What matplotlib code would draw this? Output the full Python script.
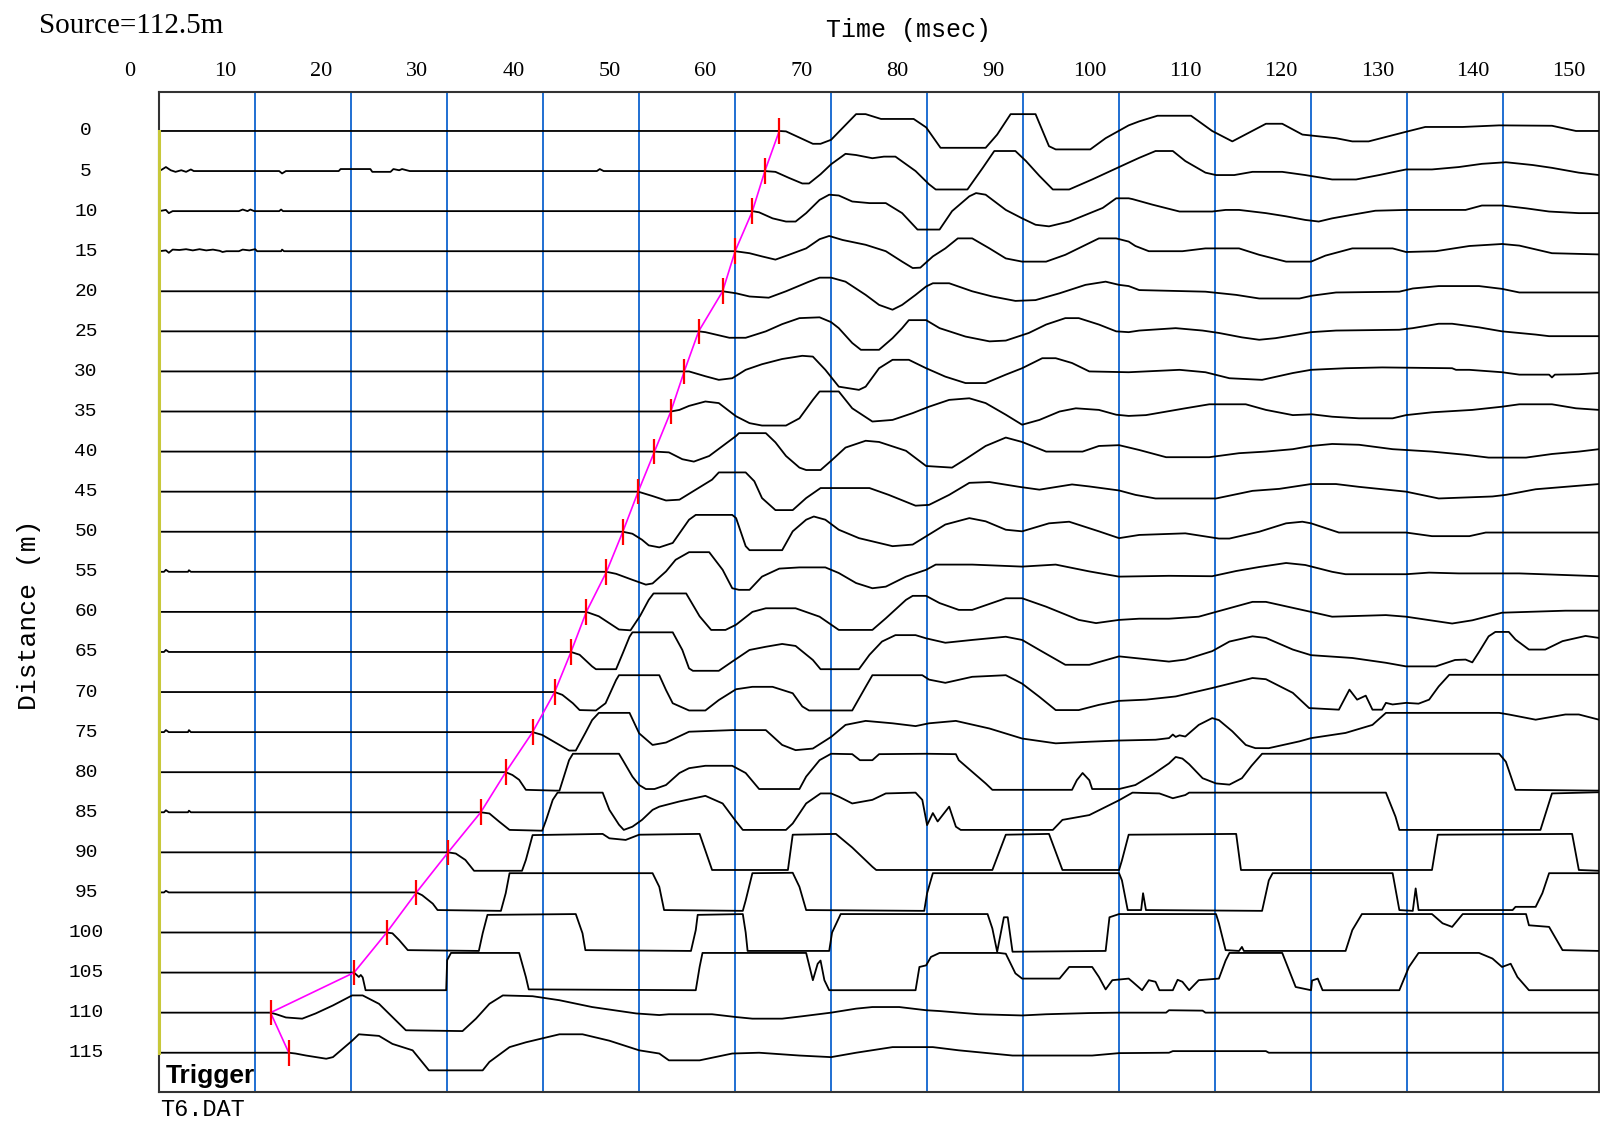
import matplotlib
matplotlib.use('Agg')
import matplotlib.pyplot as plt

# geophone offsets (m) and first-break picks (ms)
distances = [0, 5, 10, 15, 20, 25, 30, 35, 40, 45, 50, 55,
             60, 65, 70, 75, 80, 85, 90, 95, 100, 105, 110, 115]
picks = [64.6, 63.1, 61.8, 60.0, 58.7, 56.2, 54.7, 53.3, 51.6, 49.9, 48.3, 46.6,
         44.5, 42.9, 41.2, 38.9, 36.1, 33.5, 30.1, 26.8, 23.7, 20.3, 11.6, 13.5]
time_ticks = [0, 10, 20, 30, 40, 50, 60, 70, 80, 90, 100, 110, 120, 130, 140, 150]
grid_times = [10, 20, 30, 40, 50, 60, 70, 80, 90, 100, 110, 120, 130, 140]

# traces: (time ms, amplitude in m, up = positive)
trace_000 = [(64.6, 0), (65.3, -0.05), (68.1, -1.6), (68.9, -1.6), (70.0, -1.1), (72.6, 2.1), (73.6, 2.1),
             (75.2, 1.5), (78.6, 1.5), (79.9, 0.45), (81.4, -2.1), (86.1, -2.1), (87.3, -0.45), (88.7, 2.1),
             (91.3, 2.1), (92.7, -1.9), (93.4, -2.3), (97.0, -2.3), (98.6, -0.9), (101.0, 0.7), (102.1, 1.2),
             (104.0, 1.9), (107.5, 1.9), (109.7, 0), (111.8, -1.3), (115.3, 0.9), (117.0, 0.9), (119.1, -0.45),
             (122.6, -0.9), (124.3, -1.3), (126.0, -1.3), (129.9, -0.1), (131.9, 0.5), (135.8, 0.5),
             (139.6, 0.7), (145.1, 0.65), (147.6, 0), (150, 0)]
trace_005 = [(0.3, 0.2), (0.7, 0.5), (1.2, 0.1), (1.7, -0.1), (2.3, 0.1), (2.8, -0.1), (3.3, 0.2), (3.6, 0),
             (12.5, 0), (12.8, -0.3), (13.2, 0), (18.7, 0), (18.9, 0.25), (22.0, 0.25), (22.2, -0.1),
             (24.1, -0.1), (24.4, 0.25), (25.0, 0.1), (25.3, 0.25), (26.1, 0), (45.6, 0), (45.9, 0.25),
             (46.3, 0),
             (63.1, 0), (64.2, -0.1), (65.6, -0.85), (67.0, -1.55), (67.7, -1.55), (68.9, -0.4), (70.0, 0.85),
             (71.5, 2.15), (72.6, 2.0), (74.3, 1.6), (75.5, 1.8), (76.7, 1.8), (78.8, 0), (80.2, -1.65),
             (80.9, -2.3), (84.2, -2.3), (85.8, 0.4), (87.0, 2.5), (89.2, 2.5), (90.3, 1.25), (91.7, -0.6),
             (93.1, -2.3), (94.8, -2.3), (97.2, -1.05), (101.0, 1.05), (102.1, 1.65), (103.8, 2.5),
             (105.6, 2.5), (106.9, 1.25), (109.0, -0.2), (110.1, -0.5), (112.0, -0.5), (113.9, -0.1),
             (117.0, -0.1), (119.4, -0.5), (122.2, -1.05), (124.7, -1.05), (127.1, -0.5), (129.9, 0.2),
             (132.6, 0.2), (135.4, 0.5), (137.8, 0.9), (140.3, 1.1), (143.1, 0.75), (145.1, 0.4),
             (147.9, -0.2), (150, -0.5)]
trace_010 = [(0.7, 0.15), (1.0, -0.25), (1.4, 0), (8.3, 0), (8.7, 0.2), (9.2, 0), (9.5, 0.2), (9.9, 0),
             (12.5, 0), (12.7, 0.2), (12.9, 0),
             (61.8, 0), (62.5, -0.15), (63.9, -0.9), (65.3, -1.3), (66.3, -1.3), (67.4, -0.25), (68.8, 1.4),
             (69.8, 2.05), (70.8, 1.95), (72.2, 1.2), (74.0, 1.0), (75.7, 1.0), (77.4, -0.25), (79.0, -2.3),
             (81.3, -2.3), (82.6, 0), (84.4, 1.85), (85.1, 2.25), (86.1, 2.05), (88.2, 0.15), (89.9, -0.9),
             (91.3, -1.7), (92.7, -1.9), (94.8, -1.3), (98.3, 0.4), (99.7, 1.6), (101.0, 1.6), (101.4, 1.5),
             (103.5, 0.8), (106.3, -0.05), (109.7, -0.05), (111.1, 0.15), (112.5, 0.15), (115.3, -0.25),
             (117.4, -0.65), (119.4, -1.1), (120.8, -1.3), (122.2, -0.9), (124.3, -0.45), (126.7, 0.05),
             (129.9, 0.15), (136.1, 0.15), (137.8, 0.7), (139.9, 0.7), (142.4, 0.35), (144.8, -0.05),
             (147.9, -0.25), (150, -0.25)]
trace_015 = [(0.7, 0.1), (1.0, -0.2), (1.4, 0.2), (2.1, 0.15), (2.8, 0.25), (3.5, 0.1), (4.2, 0.25),
             (4.9, 0.1), (5.6, 0.2), (6.3, 0.05), (6.6, -0.1), (7.0, 0), (8.3, 0), (8.7, 0.2), (9.4, 0.1),
             (10.0, 0.25), (10.2, 0), (12.7, 0), (12.8, 0.2), (13.0, 0),
             (60.0, 0), (61.5, -0.25), (62.8, -0.65), (64.2, -1.05), (65.6, -0.45), (67.4, 0.35), (68.8, 1.5),
             (69.8, 1.9), (71.2, 1.4), (73.6, 0.8), (75.7, 0), (77.4, -1.3), (78.5, -2.1), (79.3, -2.05),
             (80.6, -0.65), (81.9, 0.35), (83.2, 1.6), (84.7, 1.6), (86.5, 0.35), (88.2, -0.9), (89.9, -1.3),
             (92.4, -1.3), (94.4, -0.45), (97.9, 1.6), (99.7, 1.6), (101.0, 1.2), (101.7, 0.65), (103.1, 0),
             (106.6, 0), (109.0, 0.35), (112.5, 0.35), (114.6, -0.45), (117.4, -1.3), (120.0, -1.3),
             (121.5, -0.55), (124.3, 0.35), (128.5, 0.35), (129.9, -0.1), (133.0, 0), (136.5, 0.65),
             (139.9, 0.9), (141.7, 0.7), (145.1, -0.25), (150, -0.4)]
trace_020 = [(58.7, 0), (60.1, -0.25), (61.5, -0.65), (63.5, -0.8), (65.3, 0), (67.7, 1.2), (68.8, 1.7),
             (70.0, 1.7), (71.5, 1.2), (73.6, -0.45), (75.0, -1.7), (76.4, -2.3), (77.4, -1.7), (78.8, -0.45),
             (79.9, 0.6), (80.6, 1.0), (82.3, 1.0), (84.7, 0), (86.8, -0.65), (89.2, -1.2), (91.3, -1.1),
             (93.8, -0.25), (96.5, 0.8), (98.6, 1.2), (100.0, 0.8), (101.0, 0.65), (102.1, 0.15),
             (109.0, -0.05), (112.2, -0.45), (114.6, -0.9), (118.8, -0.9), (120.1, -0.55), (122.6, -0.15),
             (129.2, -0.05), (130.6, 0.35), (133.3, 0.65), (137.5, 0.65), (139.9, 0.3), (141.7, -0.15),
             (150, -0.15)]
trace_025 = [(56.2, 0), (56.9, -0.1), (59.4, -0.8), (61.1, -0.8), (63.2, 0), (64.9, 0.9), (66.7, 1.65),
             (68.8, 1.75), (70.0, 1.15), (70.8, 0.4), (72.2, -1.45), (73.1, -2.3), (75.0, -2.3), (76.4, -0.85),
             (77.4, 0.4), (78.1, 1.4), (79.9, 1.4), (81.3, 0.4), (84.0, -0.65), (86.5, -1.25), (88.2, -1.15),
             (90.6, -0.2), (92.4, 0.85), (94.4, 1.65), (95.8, 1.65), (97.9, 0.85), (99.7, 0), (101.0, -0.1),
             (102.1, 0.1), (105.9, 0.4), (108.7, 0.1), (110.4, -0.2), (112.8, -0.75), (114.6, -1.05),
             (116.3, -0.85), (118.8, -0.35), (120.0, -0.1), (122.6, 0.1), (129.2, 0.2), (130.6, 0.4),
             (133.3, 0.95), (134.7, 0.95), (137.5, 0.5), (139.9, 0), (143.4, -0.4), (144.8, -0.6), (150, -0.6)]
trace_030 = [(54.7, 0), (55.2, 0), (56.9, -0.6), (58.3, -1.05), (59.7, -0.85), (61.1, 0.2), (62.8, 0.9),
             (64.9, 1.55), (67.0, 1.95), (68.1, 1.85), (69.4, 0.2), (70.8, -1.9), (72.9, -2.3), (73.6, -1.9),
             (75.0, 0.4), (76.4, 1.45), (78.1, 1.45), (79.9, 0.4), (81.9, -0.65), (84.0, -1.45), (86.1, -1.45),
             (88.2, -0.4), (89.9, 0.4), (92.0, 1.65), (93.4, 1.65), (95.1, 1.05), (96.9, 0), (101.0, -0.1),
             (106.3, 0.2), (109.0, -0.1), (111.5, -0.85), (114.9, -1.05), (118.1, -0.2), (120.0, 0.2),
             (123.6, 0.4), (127.4, 0.5), (134.7, 0.4), (135.1, 0.2), (136.5, 0.2), (139.9, -0.1),
             (141.7, -0.4), (144.8, -0.4), (145.1, -0.75), (145.4, -0.4), (147.9, -0.35), (150, -0.2)]
trace_035 = [(53.3, 0), (54.2, 0.2), (55.2, 0.7), (56.9, 1.25), (58.3, 1.05), (60.1, -0.6), (61.5, -1.45),
             (62.8, -1.75), (65.3, -1.75), (66.7, -0.85), (68.1, 1.45), (68.8, 2.5), (70.8, 2.5), (72.2, 0.4),
             (74.3, -1.25), (76.4, -1.05), (78.5, -0.2), (80.2, 0.6), (82.3, 1.45), (84.4, 1.65), (86.1, 1.05),
             (88.2, -0.4), (89.9, -1.65), (91.7, -1.05), (93.8, 0), (95.5, 0.4), (97.9, 0.2), (99.7, -0.4),
             (101.0, -0.55), (102.8, -0.45), (106.9, 0.4), (109.4, 0.9), (113.2, 0.9), (115.3, 0.2),
             (118.1, -0.45), (120.1, -0.35), (122.2, -0.65), (125.0, -0.85), (128.5, -0.85), (129.9, -0.45),
             (132.6, -0.1), (136.8, 0.2), (139.9, 0.6), (141.7, 0.9), (145.1, 0.9), (147.6, 0.4), (150, 0.2)]
trace_040 = [(51.6, 0), (53.1, -0.1), (54.5, -0.95), (55.7, -1.25), (57.3, -0.55), (58.7, 0.7), (60.1, 1.95),
             (60.4, 2.3), (63.2, 2.3), (64.2, 1.15), (65.3, -0.55), (66.7, -2.0), (67.4, -2.3), (68.9, -2.3),
             (70.0, -1.15), (71.5, 0.5), (73.6, 1.35), (75.0, 1.2), (77.8, 0.1), (79.9, -1.8), (82.6, -2.0),
             (84.0, -0.95), (86.1, 0.7), (88.2, 1.75), (89.9, 1.2), (92.4, 0), (96.2, 0), (97.9, 0.7),
             (100.0, 0.8), (102.1, 0.2), (104.9, -0.7), (109.4, -0.7), (112.5, -0.2), (115.3, 0),
             (118.1, 0.3), (120.0, 0.7), (122.2, 0.95), (125.0, 0.85), (128.5, 0.3), (132.6, 0),
             (136.1, -0.4), (138.5, -0.75), (142.4, -0.75), (145.1, -0.3), (147.9, 0), (150, 0.3)]
trace_045 = [(49.9, 0), (51.4, -0.55), (52.8, -1.1), (54.2, -1.0), (55.9, 0.25), (57.6, 1.5), (58.3, 2.4),
             (61.1, 2.4), (62.0, 1.3), (62.8, -0.8), (64.2, -2.3), (66.0, -2.3), (67.4, -0.8), (68.9, 0.45),
             (74.0, 0.45), (76.0, -0.4), (78.8, -1.75), (80.2, -1.65), (82.3, -0.4), (84.4, 1.1), (86.5, 1.2),
             (89.6, 0.6), (91.7, 0.25), (95.1, 0.9), (96.9, 0.65), (100.0, 0.15), (101.7, -0.4),
             (103.8, -0.85), (110.1, -0.85), (113.9, 0.1), (116.7, 0.35), (120.0, 0.95), (122.6, 0.95),
             (125.0, 0.6), (129.9, 0), (133.3, -0.85), (138.9, -0.6), (140.3, -0.4), (143.4, 0.3),
             (150, 0.95)]
trace_050 = [(48.3, 0), (49.3, -0.25), (50.3, -1.0), (51.0, -1.7), (52.1, -1.95), (53.5, -1.4), (55.2, 1.5),
             (55.9, 2.1), (59.7, 2.1), (60.1, 1.7), (61.1, -1.8), (61.5, -2.3), (64.9, -2.3), (66.0, 0.05),
             (67.4, 1.5), (68.2, 1.9), (69.4, 1.5), (70.8, 0.25), (72.9, -0.8), (76.4, -1.8), (78.5, -1.6),
             (80.2, -0.35), (81.9, 0.9), (84.4, 1.7), (86.1, 1.3), (88.2, 0.25), (89.9, 0.05), (92.7, 1.05),
             (94.8, 1.25), (97.9, 0.05), (100.0, -0.8), (102.1, -0.4), (106.9, -0.2), (110.4, -0.85),
             (111.5, -0.85), (114.6, 0), (117.4, 1.05), (119.1, 1.25), (120.0, 1.05), (122.9, -0.1),
             (129.9, -0.1), (132.6, -0.55), (136.5, -0.55), (138.2, -0.1), (150, -0.1)]
trace_055 = [(0.5, 0), (0.7, 0.25), (1.0, 0), (3.0, 0), (3.1, 0.2), (3.3, 0),
             (46.6, 0), (47.6, -0.25), (49.3, -1.0), (50.7, -1.6), (51.4, -1.45), (52.8, 0.05), (53.8, 1.5),
             (55.2, 2.45), (57.3, 2.45), (58.7, 0.25), (59.7, -2.05), (60.4, -2.25), (61.5, -2.25),
             (62.8, -0.6), (64.6, 0.4), (66.7, 0.55), (69.4, 0.55), (70.8, -0.15), (72.6, -1.4), (74.3, -2.05),
             (75.7, -1.85), (77.8, -0.6), (79.9, 0.25), (80.9, 0.9), (84.7, 0.9), (89.9, 0.65), (93.4, 0.9),
             (96.9, 0.05), (100.0, -0.6), (105.2, -0.5), (109.7, -0.55), (112.2, 0.1), (114.6, 0.6),
             (117.4, 1.1), (119.4, 0.85), (122.2, 0), (123.6, -0.3), (129.9, -0.3), (132.3, -0.1),
             (135.4, -0.2), (141.7, -0.2), (144.1, -0.3), (150, -0.55)]
trace_060 = [(44.5, 0), (45.8, -0.55), (47.9, -2.2), (49.1, -2.3), (50.1, -0.5), (51.0, 1.5), (51.5, 2.3),
             (54.9, 2.3), (56.3, -0.55), (57.5, -2.25), (59.0, -2.25), (60.1, -1.6), (61.8, 0), (63.2, 0.45),
             (66.3, 0.45), (68.8, -0.6), (70.8, -2.25), (74.3, -2.25), (75.7, -0.8), (77.8, 1.5), (78.5, 2.0),
             (79.9, 2.0), (81.3, 1.1), (83.3, 0.25), (84.7, 0.25), (88.2, 1.7), (89.9, 1.7), (92.4, 0.65),
             (95.8, -1.0), (97.6, -1.4), (100.0, -1.0), (102.1, -0.85), (105.2, -0.85), (108.3, -0.6),
             (110.1, 0), (113.9, 1.25), (115.3, 1.25), (120.0, 0), (122.2, -0.6), (127.8, -0.4),
             (129.9, -0.6), (134.7, -1.45), (136.8, -1.05), (139.9, -0.1), (146.5, 0.15), (150, 0.15)]
trace_065 = [(0.5, 0), (0.7, 0.25), (1.0, 0),
             (42.9, 0), (43.8, -0.35), (45.1, -1.8), (45.5, -2.15), (47.6, -2.15), (48.3, -0.15), (49.0, 1.9),
             (49.3, 2.45), (53.5, 2.45), (54.5, 0.25), (55.2, -2.05), (55.6, -2.35), (58.3, -2.35),
             (59.7, -1.2), (61.5, 0.25), (63.2, 0.65), (64.9, 1.0), (66.3, 0.75), (68.1, -1.0), (68.9, -2.15),
             (72.9, -2.15), (74.0, -0.35), (75.3, 1.3), (76.7, 2.1), (78.8, 2.1), (79.9, 1.7), (81.9, 1.15),
             (84.7, 1.5), (88.2, 1.9), (89.9, 1.5), (91.7, 0.25), (94.4, -1.6), (96.9, -1.6), (100.0, -0.55),
             (105.2, -1.2), (106.9, -0.95), (109.7, 0.1), (111.5, 1.3), (113.9, 1.95), (115.3, 1.75),
             (118.1, 0.3), (120.0, -0.4), (124.3, -0.75), (127.8, -1.35), (129.9, -1.8), (133.0, -1.8),
             (135.0, -1.0), (136.1, -0.95), (136.8, -1.3), (137.5, 0), (138.5, 1.95), (139.2, 2.5),
             (140.6, 2.5), (141.3, 1.55), (142.7, 0.3), (144.4, 0.3), (146.2, 1.35), (148.6, 2.0),
             (150, 1.75)]
trace_070 = [(41.2, 0), (42.0, -0.35), (43.1, -1.4), (43.8, -2.25), (45.5, -2.3), (46.5, -1.4), (47.6, 1.5),
             (47.9, 2.1), (52.1, 2.1), (52.8, 0.25), (53.5, -1.4), (55.2, -2.3), (56.9, -2.3), (58.3, -1.0),
             (60.1, 0.35), (61.8, 0.65), (63.9, 0.65), (66.0, -0.15), (67.0, -1.8), (67.7, -2.3), (72.2, -2.3),
             (73.6, 0.65), (74.3, 2.1), (79.5, 2.1), (80.2, 1.55), (81.9, 1.15), (84.7, 1.9), (88.2, 2.1),
             (89.9, 1.05), (91.7, -0.6), (93.4, -2.25), (95.8, -2.25), (97.9, -1.6), (100.0, -1.1),
             (102.8, -0.95), (105.9, -0.55), (109.7, 0.5), (113.9, 1.75), (115.3, 1.6), (118.1, -0.1),
             (119.8, -2.0), (122.9, -2.2), (124.0, 0.3), (124.8, -0.95), (125.7, -0.45), (126.4, -2.2),
             (127.4, -2.2), (127.8, -1.35), (128.5, -1.55), (129.9, -1.35), (131.2, -1.45), (132.3, -0.95),
             (133.3, 0.7), (134.4, 2.15), (150, 2.15)]
trace_075 = [(0.5, 0), (0.7, 0.25), (1.0, 0), (3.0, 0), (3.1, 0.25), (3.3, 0),
             (38.9, 0), (39.9, -0.35), (41.7, -1.6), (42.7, -2.3), (43.4, -2.3), (44.4, -0.1), (45.1, 1.5),
             (45.8, 2.4), (49.0, 2.4), (50.0, -0.15), (51.4, -1.6), (52.8, -1.3), (55.2, 0.05), (59.7, 0.25),
             (63.2, 0.25), (64.9, -1.6), (66.3, -2.25), (68.1, -2.05), (70.0, -0.6), (71.5, 0.9), (73.6, 1.4),
             (76.4, 1.1), (78.8, 0.75), (80.2, 1.1), (83.0, 1.4), (86.5, 0.45), (89.9, -0.8), (93.4, -1.4),
             (96.9, -1.2), (100.0, -1.05), (103.8, -0.95), (105.2, -0.75), (105.6, -0.3), (105.9, -0.6),
             (106.3, -0.4), (106.9, -0.55), (108.3, 0.9), (109.7, 1.75), (110.4, 1.5), (111.8, 0.1),
             (113.2, -1.6), (114.2, -2.0), (115.6, -2.0), (118.8, -1.15), (120.0, -0.75), (123.6, -0.1),
             (126.4, 0.9), (127.8, 2.4), (139.6, 2.4), (140.6, 2.2), (143.4, 1.55), (146.5, 2.2),
             (147.9, 2.2), (150, 1.55)]
trace_080 = [(36.1, 0), (36.8, -0.35), (37.5, -0.95), (38.2, -2.2), (41.3, -2.3), (41.7, -2.3), (42.7, 1.5),
             (43.1, 2.3), (47.9, 2.3), (48.3, 1.5), (49.3, -0.55), (50.0, -1.6), (50.7, -2.1), (51.6, -2.1),
             (52.8, -1.6), (54.2, -0.1), (55.2, 0.5), (56.9, 0.8), (59.7, 0.8), (61.1, -0.1), (62.5, -2.1),
             (66.7, -2.1), (67.4, -0.55), (68.8, 1.5), (70.0, 2.3), (72.2, 2.25), (73.0, 1.5), (74.3, 1.5),
             (75.0, 2.25), (79.9, 2.3), (83.0, 2.25), (83.3, 1.5), (86.1, -1.4), (86.8, -2.2), (95.1, -2.2),
             (95.6, -1.0), (96.2, -0.1), (96.9, -1.0), (97.2, -2.1), (100.0, -2.1), (101.7, -1.6),
             (103.5, -0.3), (105.2, 1.1), (105.9, 1.9), (106.6, 1.7), (107.3, 1.0), (108.7, -0.75),
             (110.1, -1.4), (111.5, -1.55), (112.8, -0.75), (113.8, 0.8), (114.9, 2.3), (139.6, 2.3),
             (140.3, 1.3), (141.3, -2.2), (150, -2.3)]
trace_085 = [(0.5, 0), (0.7, 0.25), (1.0, 0), (3.0, 0), (3.1, 0.2), (3.3, 0),
             (33.5, 0), (34.4, -0.15), (35.4, -1.15), (36.5, -2.2), (39.9, -2.3), (40.3, -1.0), (41.0, 1.55),
             (41.5, 2.45), (46.2, 2.45), (46.9, 0.3), (47.9, -1.55), (48.4, -2.2), (49.3, -1.8), (50.3, -0.95),
             (51.4, 0.3), (52.1, 0.7), (54.2, 1.35), (56.9, 2.05), (58.7, 1.1), (60.1, -1.15), (60.8, -2.2),
             (65.3, -2.2), (66.0, -1.4), (67.4, 1.1), (68.9, 2.35), (70.0, 2.35), (70.8, 1.95), (72.2, 1.1),
             (74.3, 1.55), (75.7, 2.35), (78.8, 2.45), (79.5, 1.55), (80.0, -1.6), (80.6, -0.1), (81.1, -1.15),
             (82.3, 0.7), (83.0, -1.8), (83.5, -2.2), (93.1, -2.2), (94.1, -0.95), (96.9, -0.35), (100.0, 1.5),
             (101.4, 2.45), (104.2, 2.35), (105.6, 1.75), (106.9, 2.15), (107.3, 2.45), (127.8, 2.45),
             (128.8, -0.55), (129.2, -2.2), (143.9, -2.2), (145.1, 2.35), (150, 2.5)]
trace_090 = [(30.1, 0), (30.9, -0.15), (31.9, -0.95), (32.8, -2.3), (37.8, -2.3), (38.2, -0.95), (38.9, 2.15),
             (46.2, 2.3), (46.9, 1.75), (48.6, 1.55), (50.0, 2.2), (56.3, 2.3), (57.6, -2.2), (65.5, -2.2),
             (66.0, 2.2), (70.5, 2.3), (72.2, 0.6), (74.3, -1.8), (74.7, -2.2), (86.8, -2.2), (88.2, 2.2),
             (92.7, 2.3), (94.1, -2.2), (100.0, -2.2), (100.3, -1.0), (101.0, 2.2), (112.2, 2.3),
             (112.7, -2.2), (132.6, -2.2), (133.2, 2.2), (147.2, 2.3), (147.9, -2.2), (150, -2.3)]
trace_095 = [(0.5, 0), (0.7, 0.2), (1.0, 0),
             (26.8, 0), (27.4, -0.35), (28.5, -1.4), (29.0, -2.2), (35.6, -2.3), (36.1, -0.1), (36.5, 2.4),
             (51.4, 2.4), (52.1, 0.7), (52.6, -2.2), (60.8, -2.3), (61.1, -1.0), (61.8, 2.4), (66.0, 2.45),
             (66.7, 0.7), (67.4, -2.2), (79.7, -2.3), (80.0, -0.1), (80.6, 2.4), (100.0, 2.4), (100.3, 1.5),
             (100.9, -2.2), (102.3, -2.2), (102.5, -0.1), (102.8, -2.2), (114.9, -2.3), (115.6, 1.5),
             (116.0, 2.4), (128.5, 2.4), (129.2, -2.2), (130.6, -2.3), (130.9, 0.5), (131.2, -2.2),
             (141.0, -2.2), (141.3, -1.8), (143.4, -1.8), (144.1, -0.1), (144.8, 2.4), (150, 2.4)]
trace_100 = [(23.7, 0), (24.3, -0.1), (25.0, -0.95), (25.9, -2.2), (33.3, -2.3), (33.7, -0.1), (34.2, 2.2),
             (43.4, 2.3), (44.1, -0.1), (44.4, -2.2), (55.4, -2.3), (55.9, 0.3), (56.1, 2.2), (60.8, 2.3),
             (61.1, 0), (61.3, -2.3), (69.8, -2.3), (70.1, 0), (71.0, 2.3), (86.3, 2.3), (86.8, 0.5),
             (87.3, -2.4), (88.0, 1.9), (88.4, 1.9), (88.9, -2.4), (98.6, -2.3), (99.0, 1.9), (100.0, 2.3),
             (110.1, 2.3), (110.4, 1.15), (111.1, -2.2), (112.5, -2.3), (112.8, -1.8), (113.0, -2.3),
             (123.6, -2.3), (124.3, 0.3), (125.3, 2.3), (132.6, 2.3), (133.7, 1.15), (134.7, 0.7),
             (135.8, 2.3), (142.4, 2.3), (142.7, 0.9), (144.8, 0.7), (146.2, -2.2), (150, -2.3)]
trace_105 = [(20.3, 0), (20.8, -0.55), (21.0, -0.3), (21.2, -0.6), (21.5, -2.2), (29.9, -2.2), (30.0, 1.55),
             (30.4, 2.45), (37.5, 2.45), (38.2, -0.55), (38.5, -2.1), (55.9, -2.2), (56.3, 0.7), (56.6, 2.45),
             (67.4, 2.45), (68.1, -0.95), (68.6, 1.1), (68.9, 1.5), (69.3, -0.95), (69.8, -2.2), (78.8, -2.2),
             (79.2, 0.7), (79.9, 0.9), (80.4, 1.95), (81.3, 2.45), (87.5, 2.45), (88.2, 2.35), (89.2, -0.1),
             (89.9, -0.75), (93.8, -0.75), (94.8, 0.7), (97.2, 0.7), (97.9, -0.55), (98.6, -2.1),
             (99.3, -0.95), (101.0, -0.75), (101.4, -1.15), (102.4, -2.2), (103.1, -0.95), (103.8, -1.15),
             (104.2, -2.2), (105.6, -2.2), (106.1, -0.9), (106.6, -1.15), (107.3, -2.2), (108.3, -0.95),
             (110.4, -0.75), (111.1, 1.5), (111.5, 2.45), (117.0, 2.45), (118.4, -1.8), (120.0, -2.2),
             (120.1, -1.0), (120.7, -0.75), (121.2, -2.2), (129.2, -2.2), (130.2, 0.7), (131.2, 2.45),
             (137.5, 2.45), (138.9, 1.75), (139.9, 0.7), (140.8, 1.1), (141.5, -0.55), (142.7, -2.2),
             (150, -2.2)]
trace_110 = [(11.6, 0), (12.2, -0.2), (13.2, -0.6), (14.9, -0.75), (16.3, -0.1), (18.1, 0.9), (20.1, 2.15),
             (21.2, 2.15), (22.9, 1.1), (24.3, -0.55), (25.7, -2.2), (31.6, -2.3), (33.0, -0.75), (34.4, 1.1),
             (35.8, 2.15), (38.9, 2.05), (41.7, 1.55), (45.1, 0.7), (49.7, -0.1), (52.1, -0.3), (53.1, -0.2),
             (57.6, -0.2), (60.1, -0.55), (61.8, -0.75), (64.9, -0.75), (67.0, -0.45), (70.0, 0), (72.6, 0.5),
             (74.3, 0.7), (77.1, 0.7), (79.9, 0.3), (81.3, 0.2), (85.4, -0.2), (89.9, -0.35), (92.4, -0.2),
             (96.9, -0.05), (100.0, 0), (104.9, 0), (105.2, 0.3), (108.7, 0.25), (109.0, 0), (150, 0)]
trace_115 = [(13.5, 0), (14.2, -0.1), (15.3, -0.35), (17.4, -0.75), (18.1, -0.55), (20.1, 1.5), (20.8, 2.3),
             (22.9, 2.1), (24.3, 1.1), (26.4, 0.3), (28.1, -2.2), (33.7, -2.2), (34.4, -1.15), (36.5, 0.7),
             (38.2, 1.3), (41.7, 2.3), (44.1, 2.3), (46.9, 1.5), (50.0, 0.3), (52.1, -0.1), (53.1, -0.95),
             (56.3, -0.95), (59.7, -0.1), (62.5, 0), (66.7, -0.35), (70.0, -0.55), (72.6, 0), (76.4, 0.7),
             (80.6, 0.7), (83.3, 0.3), (88.9, -0.35), (97.2, -0.35), (100.0, -0.05), (105.2, 0), (105.6, 0.2),
             (115.3, 0.2), (115.6, 0), (150, 0)]

traces = [trace_000, trace_005, trace_010, trace_015, trace_020, trace_025, trace_030, trace_035,
          trace_040, trace_045, trace_050, trace_055, trace_060, trace_065, trace_070, trace_075,
          trace_080, trace_085, trace_090, trace_095, trace_100, trace_105, trace_110, trace_115]

W, H = 1600, 1124
fig = plt.figure(figsize=(W / 100, H / 100), dpi=100)
ax_left, ax_right, ax_top, ax_bot = 159.2, 1599.0, 91.7, 1092.0
ax = fig.add_axes([ax_left / W, 1 - ax_bot / H, (ax_right - ax_left) / W, (ax_bot - ax_top) / H])
ax.set_xlim(0, 150)
ax.set_ylim(119.9, -4.9)
ax.set_xticks([])
ax.set_yticks([])
for sp in ax.spines.values():
    sp.set_color('#333333')
    sp.set_linewidth(1.5)

# blue time grid
for g in grid_times:
    ax.axvline(g, color='#1f6fd2', lw=1.4, zorder=1)

# wiggle traces
for d, tr in zip(distances, traces):
    pts = [(0.0, 0.0)] + tr
    t = [p[0] for p in pts]
    y = [d - p[1] for p in pts]
    ax.plot(t, y, color='black', lw=1.3, zorder=3)

# trigger line
ax.plot([0, 0], [distances[0], distances[-1]], color='#c8c83a', lw=2.2, zorder=4, clip_on=False)

# first-break picks
ax.plot(picks, distances, color='#ff00ff', lw=1.2, zorder=5)
ax.vlines(picks, [d - 1.6 for d in distances], [d + 1.6 for d in distances],
          color='#ff0000', lw=1.6, zorder=6)

ax.text(0.7, 118.8, 'Trigger', family='Liberation Sans', weight='bold', fontsize=19,
        ha='left', va='baseline', zorder=7)

# tick labels (time labels sit left of their grid lines, as in the original)
xtr = ax.get_xaxis_transform()
for v in time_ticks:
    ax.text(v - 3.1, 1.0205, str(v), transform=xtr, ha='center', va='center',
            family='Liberation Serif', fontsize=16, clip_on=False)
ytr = ax.get_yaxis_transform()
for d in distances:
    ax.text(-0.0508, d, str(d), transform=ytr, ha='center', va='center',
            family='Liberation Mono', fontsize=14, clip_on=False)

fig.text(39 / W, 1 - 26 / H, 'Source=112.5m', family='Liberation Serif', fontsize=21,
         ha='left', va='center')
fig.text(908 / W, 1 - 29.5 / H, 'Time (msec)', family='Liberation Mono', fontsize=18,
         ha='center', va='center')
fig.text(28.6 / W, 1 - 615 / H, 'Distance (m)', family='Liberation Mono', fontsize=19,
         ha='center', va='center', rotation=90)
fig.text(160 / W, 1 - 1110 / H, 'T6.DAT', family='Liberation Mono', fontsize=17,
         ha='left', va='center')

fig.savefig('out.png', dpi=100)
